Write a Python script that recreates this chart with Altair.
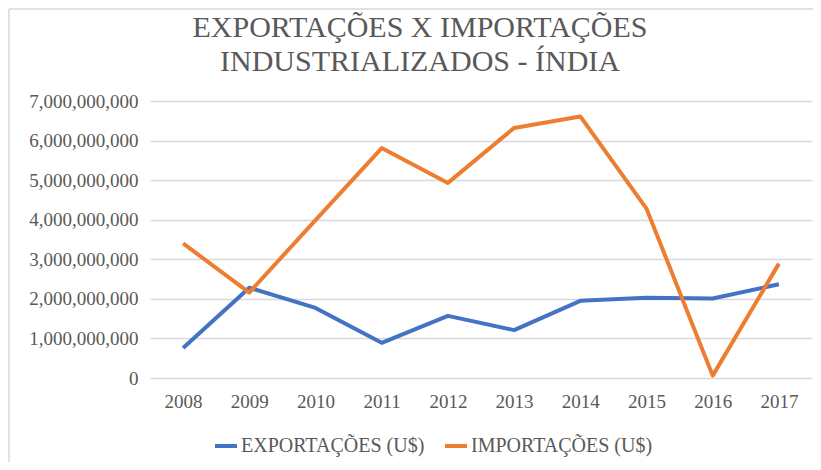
import altair as alt
import pandas as pd

years = ["2008", "2009", "2010", "2011", "2012", "2013", "2014", "2015", "2016", "2017"]
exportacoes = [760e6, 2280e6, 1770e6, 890e6, 1570e6, 1210e6, 1950e6, 2030e6, 2010e6, 2370e6]
importacoes = [3400e6, 2160e6, 3990e6, 5810e6, 4930e6, 6320e6, 6610e6, 4280e6, 60e6, 2890e6]
series_names = ["EXPORTAÇÕES (U$)", "IMPORTAÇÕES (U$)"]
series_colors = ["#4472C4", "#ED7D31"]
y_ticks = [0, 1e9, 2e9, 3e9, 4e9, 5e9, 6e9, 7e9]

rows = []
for i, yr in enumerate(years):
    rows.append({"ano": yr, "serie": series_names[0], "valor": exportacoes[i]})
    rows.append({"ano": yr, "serie": series_names[1], "valor": importacoes[i]})
df = pd.DataFrame(rows)

FONT = "Liberation Serif"
GRAY = "#595959"

lines = alt.Chart(df).mark_line(strokeWidth=4, strokeJoin="round").encode(
    x=alt.X("ano:N", sort=years, scale=alt.Scale(type="point", padding=0.5),
            axis=alt.Axis(title=None, labelAngle=0, ticks=False, domain=False,
                          labelFont=FONT, labelFontSize=19, labelColor=GRAY,
                          labelPadding=14, grid=False)),
    y=alt.Y("valor:Q", scale=alt.Scale(domain=[0, 7e9], nice=False),
            axis=alt.Axis(title=None, values=y_ticks, format=",d", ticks=False, domain=False,
                          labelFont=FONT, labelFontSize=19, labelColor=GRAY,
                          labelPadding=12, gridColor="#d9d9d9", gridWidth=1.5)),
    color=alt.Color("serie:N", scale=alt.Scale(domain=series_names, range=series_colors),
                    legend=alt.Legend(title=None, orient="none", direction="horizontal",
                                      legendX=63, legendY=332, padding=0,
                                      symbolType="stroke",
                                      symbolStrokeWidth=4, symbolSize=484,
                                      labelFont=FONT, labelFontSize=20, labelColor=GRAY,
                                      labelLimit=400,
                                      columnPadding=12, labelOffset=2)),
)

frame_top = alt.Chart().mark_rule(color="#d9d9d9", strokeWidth=1.5).encode(
    x=alt.value(-141), x2=alt.value(670), y=alt.value(-92))
frame_left = alt.Chart().mark_rule(color="#d9d9d9", strokeWidth=1.5).encode(
    x=alt.value(-141), y=alt.value(-92), y2=alt.value(460))

chart = alt.layer(lines, frame_top, frame_left).properties(
    width=662, height=277,
    title=alt.TitleParams(
        text=["EXPORTAÇÕES X IMPORTAÇÕES", "INDUSTRIALIZADOS - ÍNDIA"],
        font=FONT, fontSize=30, fontWeight="normal", color=GRAY,
        anchor="middle", frame="group", dx=-61, lineHeight=34,
        baseline="top", offset=-69),
    autosize=alt.AutoSizeParams(type="none"),
    padding={"left": 142, "top": 93, "right": 1, "bottom": 84},
).configure_view(stroke=None)

chart.save("out.html", embed_options={"renderer": "svg", "actions": False})
